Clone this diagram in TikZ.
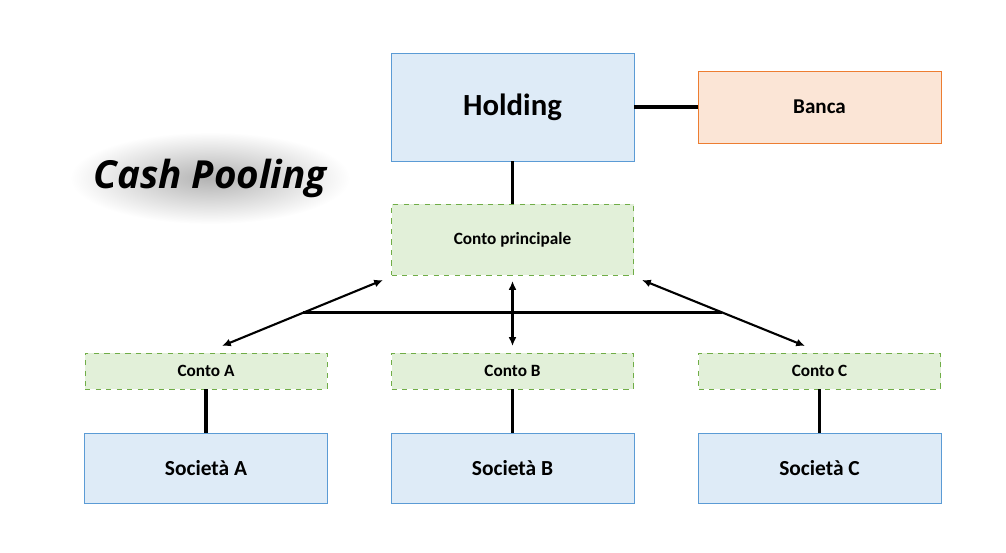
\documentclass[tikz,border=0pt]{standalone}
\usepackage{fontspec}
\setmainfont{Carlito}
\newfontfamily\titlefont{Open Sans}
\usetikzlibrary{arrows.meta}
\definecolor{holdfill}{HTML}{DEEBF7}
\definecolor{holdline}{HTML}{5B9BD5}
\definecolor{bankfill}{HTML}{FBE5D6}
\definecolor{bankline}{HTML}{ED7D31}
\definecolor{accfill}{HTML}{E2F0D9}
\definecolor{accline}{HTML}{70AD47}
\tikzset{
  entity/.style={draw=holdline, fill=holdfill, line width=0.5pt, minimum width=243*0.02cm, font=\bfseries},
  bank/.style={draw=bankline, fill=bankfill, line width=0.5pt, minimum width=243*0.02cm, minimum height=72*0.02cm, font=\bfseries\fontsize{12}{14}\selectfont},
  account/.style={draw=accline, fill=accfill, dashed, line width=0.5pt, minimum width=242*0.02cm, font=\bfseries\fontsize{9.8}{12}\selectfont},
  link/.style={line width=2pt},
  flow/.style={line width=1.2pt, {Latex[length=5pt,width=4.5pt]}-{Latex[length=5pt,width=4.5pt]}},
}
\begin{document}
\begin{tikzpicture}[x=0.02cm, y=-0.02cm]
    \useasboundingbox (0,0) rectangle (1006,553);

    \shade[inner color=black!30, outer color=white] (210,178) ellipse (140 and 46);
    \node (title) at (210,178) {\titlefont\bfseries\itshape\fontsize{22}{26}\selectfont Cash Pooling};

    \node [entity, minimum height=108*0.02cm, font=\bfseries\fontsize{17.5}{20}\selectfont] (holding) at (512.5,107) {Holding};
    \node [bank] (banca) at (819.5,107) {Banca};
    \node [account, minimum height=71*0.02cm] (main) at (512.5,239.5) {Conto principale};

    \node [account, minimum height=36*0.02cm] (contoA) at (206,371) {Conto A};
    \node [account, minimum height=36*0.02cm] (contoB) at (512.5,371) {Conto B};
    \node [account, minimum height=36*0.02cm] (contoC) at (819.5,371) {Conto C};

    \node [entity, minimum height=70*0.02cm, font=\bfseries\fontsize{12.2}{14}\selectfont] (socA) at (206,468) {Società A};
    \node [entity, minimum height=70*0.02cm, font=\bfseries\fontsize{12.2}{14}\selectfont] (socB) at (512.5,468) {Società B};
    \node [entity, minimum height=70*0.02cm, font=\bfseries\fontsize{12.2}{14}\selectfont] (socC) at (819.5,468) {Società C};

    \draw [link] (holding) -- (banca);
    \draw [link] (holding) -- (main);
    \draw [link] (contoA) -- (socA);
    \draw [link] (contoB) -- (socB);
    \draw [link] (contoC) -- (socC);

    \coordinate (leftin) at (222,346);
    \coordinate (leftout) at (383,280);
    \coordinate (rightin) at (805,346);
    \coordinate (rightout) at (642,280);
    \coordinate (midin) at (512.5,346);
    \coordinate (midout) at (512.5,281);
    \coordinate (joinL) at (303,312.5);
    \coordinate (joinR) at (722,312.5);

    \draw [flow] (leftin) -- (leftout);
    \draw [flow] (rightin) -- (rightout);
    \draw [flow] (midin) -- (midout);
    \draw [line width=1.2pt] (joinL) -- (joinR);
\end{tikzpicture}
\end{document}
